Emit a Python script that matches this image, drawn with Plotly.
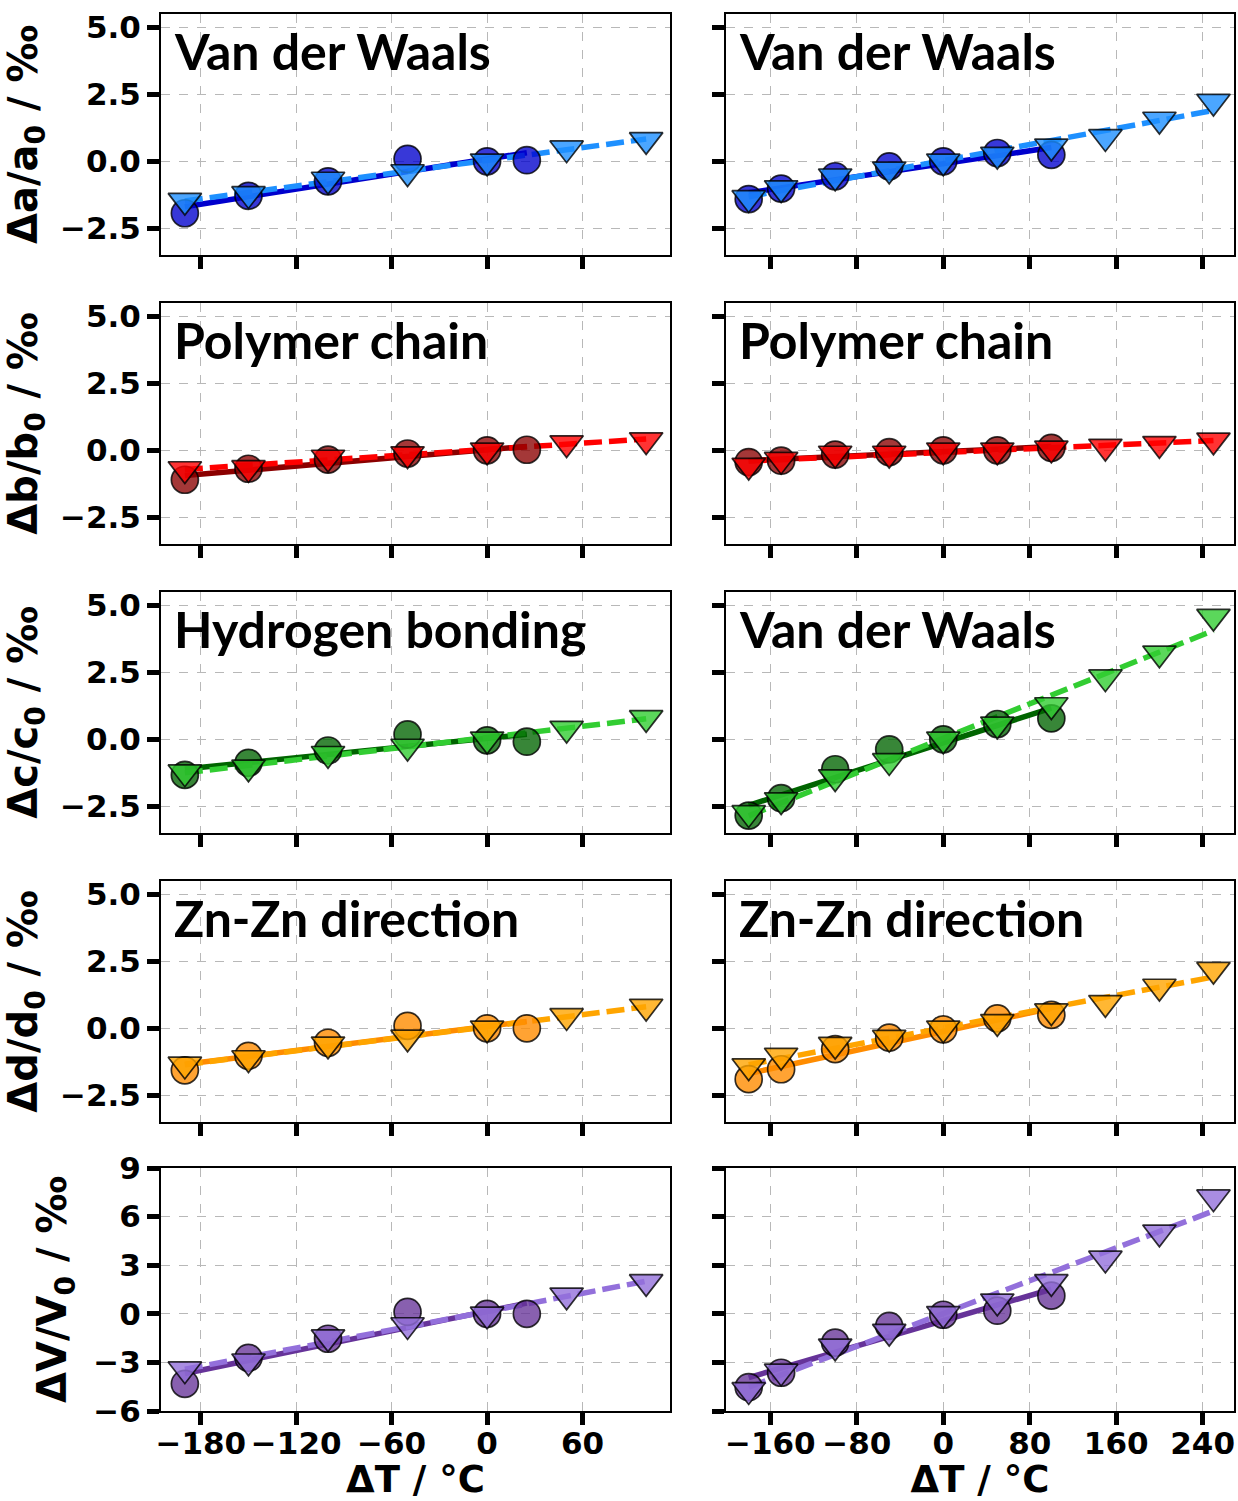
import numpy as np
import plotly.graph_objects as go

# ---------------- data ----------------
T_left_circ = [-190, -150, -100, -50, 0, 25]
T_left_tri = [-190, -150, -100, -50, 0, 50, 100]
T_right_circ = [-180, -150, -100, -50, 0, 50, 100]
T_right_tri = [-180, -150, -100, -50, 0, 50, 100, 150, 200, 250]

a_left_circ = [-1.94, -1.29, -0.75, 0.09, 0.0, 0.04]
a_left_tri = [-1.47, -1.22, -0.68, -0.40, 0.0, 0.49, 0.80]
a_right_circ = [-1.41, -1.02, -0.56, -0.19, 0.0, 0.31, 0.24]
a_right_tri = [-1.37, -1.00, -0.56, -0.30, 0.0, 0.25, 0.56, 0.91, 1.56, 2.23]

b_left_circ = [-1.10, -0.69, -0.35, -0.12, 0.0, 0.02]
b_left_tri = [-0.70, -0.66, -0.27, -0.14, 0.0, 0.27, 0.38]
b_right_circ = [-0.44, -0.39, -0.16, -0.07, 0.0, 0.0, 0.09]
b_right_tri = [-0.57, -0.35, -0.12, -0.12, 0.0, 0.0, 0.07, 0.14, 0.24, 0.37]

c_left_circ = [-1.33, -0.88, -0.42, 0.18, -0.04, -0.09]
c_left_tri = [-1.23, -1.05, -0.54, -0.27, 0.0, 0.40, 0.80]
c_right_circ = [-2.85, -2.20, -1.12, -0.38, 0.0, 0.57, 0.78]
c_right_tri = [-2.75, -2.27, -1.41, -0.81, 0.0, 0.56, 1.28, 2.32, 3.21, 4.58]

d_left_circ = [-1.57, -1.03, -0.54, 0.09, 0.0, 0.0]
d_left_tri = [-1.35, -1.11, -0.60, -0.34, 0.0, 0.46, 0.81]
d_right_circ = [-1.90, -1.53, -0.78, -0.35, -0.04, 0.37, 0.50]
d_right_tri = [-1.41, -1.02, -0.61, -0.35, 0.0, 0.24, 0.64, 0.95, 1.56, 2.19]

V_left_circ = [-4.32, -2.72, -1.54, 0.12, 0.0, 0.0]
V_left_tri = [-3.42, -2.93, -1.44, -0.69, -0.04, 1.14, 1.97]
V_right_circ = [-4.53, -3.64, -1.78, -0.75, -0.06, 0.19, 1.12]
V_right_tri = [-4.70, -3.56, -2.01, -1.10, 0.0, 0.77, 1.97, 3.42, 5.03, 7.20]

row_titles = ["Δa/a<sub>0</sub> / ‰", "Δb/b<sub>0</sub> / ‰", "Δc/c<sub>0</sub> / ‰",
              "Δd/d<sub>0</sub> / ‰", "ΔV/V<sub>0</sub> / ‰"]
labels_left = ["Van der Waals", "Polymer chain", "Hydrogen bonding", "Zn-Zn direction", ""]
labels_right = ["Van der Waals", "Polymer chain", "Van der Waals", "Zn-Zn direction", ""]

xticks_left = [-180, -120, -60, 0, 60]
xticks_left_text = ["−180", "−120", "−60", "0", "60"]
xticks_right = [-160, -80, 0, 80, 160, 240]
xticks_right_text = ["−160", "−80", "0", "80", "160", "240"]
yticks_std = [-2.5, 0.0, 2.5, 5.0]
yticks_std_text = ["−2.5", "0.0", "2.5", "5.0"]
yticks_V = [-6, -3, 0, 3, 6, 9]
yticks_V_text = ["−6", "−3", "0", "3", "6", "9"]

# colours: (circle fill, solid line, triangle fill, dashed line)
row_colors = [
    ("rgba(0,0,205,0.78)", "#0000CD", "rgba(30,144,255,0.8)", "#1E90FF"),
    ("rgba(139,0,0,0.78)", "#8B0000", "rgba(255,0,0,0.8)", "#FF0000"),
    ("rgba(0,100,0,0.78)", "#006400", "rgba(50,205,50,0.8)", "#32CD32"),
    ("rgba(255,140,0,0.8)", "#FF8C00", "rgba(255,165,0,0.8)", "#FFA500"),
    ("rgba(102,51,153,0.78)", "#663399", "rgba(147,112,219,0.8)", "#9370DB"),
]

series = [
    (a_left_circ, a_left_tri, a_right_circ, a_right_tri),
    (b_left_circ, b_left_tri, b_right_circ, b_right_tri),
    (c_left_circ, c_left_tri, c_right_circ, c_right_tri),
    (d_left_circ, d_left_tri, d_right_circ, d_right_tri),
    (V_left_circ, V_left_tri, V_right_circ, V_right_tri),
]

# ---------------- layout geometry ----------------
W, H = 1238, 1501
col_px = [(161, 670), (726, 1234)]
row_px = [(14, 255), (303, 544), (592, 833), (881, 1122), (1168, 1411)]
xranges = [[-205, 115], [-201, 269]]

fig = go.Figure()
layout = dict(
    width=W, height=H, margin=dict(l=0, r=0, t=0, b=0, autoexpand=False),
    paper_bgcolor="white", plot_bgcolor="white", showlegend=False,
    font=dict(family="DejaVu Sans", color="black"),
    annotations=[],
)

def fit_line(x, y):
    p = np.polyfit(np.array(x, float), np.array(y, float), 1)
    xs = np.array([min(x), max(x)], float)
    return xs, np.polyval(p, xs)

tickfont = dict(family="DejaVu Sans", size=31, color="black", weight="bold")

for r in range(5):
    for c in range(2):
        k = r * 2 + c + 1
        sfx = "" if k == 1 else str(k)
        xa, ya = "x" + sfx, "y" + sfx
        circ_y = series[r][2 * c]
        tri_y = series[r][2 * c + 1]
        circ_x = T_left_circ if c == 0 else T_right_circ
        tri_x = T_left_tri if c == 0 else T_right_tri
        cfill, cline, tfill, tline = row_colors[r]

        xs, ys = fit_line(circ_x, circ_y)
        fig.add_trace(go.Scatter(x=xs, y=ys, mode="lines", xaxis=xa, yaxis=ya,
                                 line=dict(color=cline, width=5.5)))
        xs, ys = fit_line(tri_x, tri_y)
        fig.add_trace(go.Scatter(x=xs, y=ys, mode="lines", xaxis=xa, yaxis=ya,
                                 line=dict(color=tline, width=5.5, dash="18px,7px")))
        fig.add_trace(go.Scatter(x=circ_x, y=circ_y, mode="markers", xaxis=xa, yaxis=ya,
                                 marker=dict(symbol="circle", size=27, color=cfill,
                                             line=dict(color="rgba(0,0,0,0.8)", width=1.7))))
        fig.add_trace(go.Scatter(x=tri_x, y=tri_y, mode="markers", xaxis=xa, yaxis=ya,
                                 marker=dict(symbol="triangle-down", size=29, color=tfill,
                                             line=dict(color="rgba(0,0,0,0.8)", width=1.7))))

        x0, x1 = col_px[c]
        y0, y1 = row_px[r]
        xdom = [x0 / W, x1 / W]
        ydom = [1 - y1 / H, 1 - y0 / H]

        common = dict(ticks="outside", ticklen=12, tickwidth=5, tickcolor="black",
                      showline=True, linecolor="black", linewidth=2, mirror=True,
                      showgrid=True, gridcolor="#b8b8b8", gridwidth=1, griddash="dash",
                      zeroline=False, tickfont=tickfont, automargin=False)
        bottom = (r == 4)
        xaxis = dict(common, domain=xdom, range=xranges[c], anchor=ya,
                     tickmode="array",
                     tickvals=xticks_left if c == 0 else xticks_right,
                     ticktext=xticks_left_text if c == 0 else xticks_right_text,
                     showticklabels=bottom, ticklabelstandoff=-8)
        if bottom:
            xaxis["title"] = dict(text="ΔT / °C", standoff=8,
                                  font=dict(family="DejaVu Sans", size=37, color="black", weight="bold"))
        yv = yticks_V if r == 4 else yticks_std
        yt = yticks_V_text if r == 4 else yticks_std_text
        yaxis = dict(common, domain=ydom, range=[-6, 9] if r == 4 else [-3.5, 5.5],
                     anchor=xa, tickmode="array", tickvals=yv, ticktext=yt,
                     showticklabels=(c == 0))
        if c == 0:
            yaxis["title"] = dict(text=row_titles[r], standoff=14,
                                  font=dict(family="DejaVu Sans", size=40, color="black", weight="bold"))
        layout["xaxis" + sfx] = xaxis
        layout["yaxis" + sfx] = yaxis

        lab = labels_left[r] if c == 0 else labels_right[r]
        if lab:
            layout["annotations"].append(dict(
                text=lab, xref=f"{xa} domain", yref=f"{ya} domain", x=0.022, y=0.845,
                xanchor="left", yanchor="middle", showarrow=False,
                font=dict(family="Lato", size=50, color="black", weight="bold")))

fig.update_layout(**layout)
fig.write_html("out.html", config={"displayModeBar": False},
               post_script="document.body.style.margin='0px';document.body.style.overflow='hidden';")
